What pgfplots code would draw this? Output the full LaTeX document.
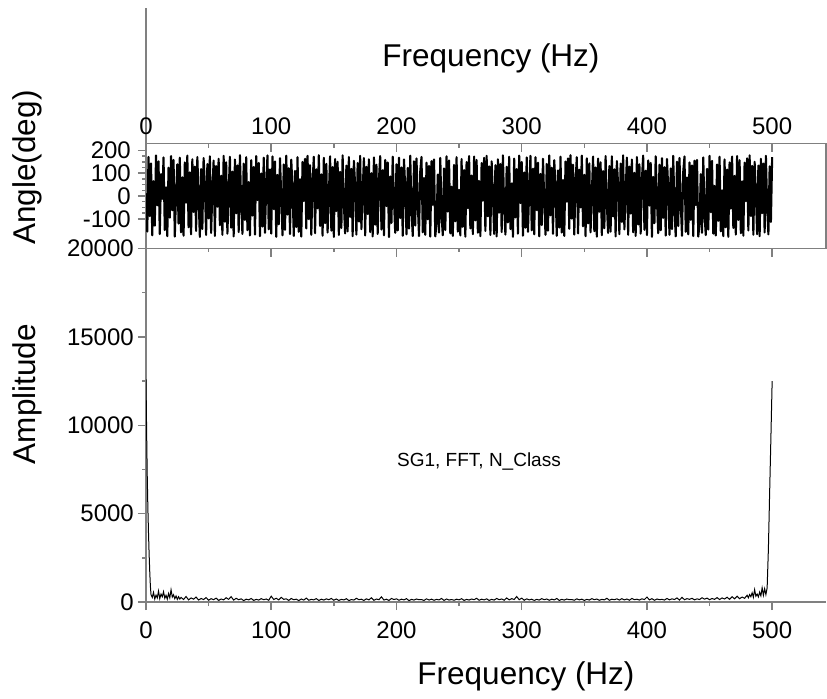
\documentclass[border=0pt]{standalone}
\usepackage{fontspec}
\setmainfont{Liberation Sans}
\usepackage{pgfplots}
\pgfplotsset{compat=1.18}
\definecolor{axgray}{RGB}{128,128,128}
\pgfplotsset{
  myax/.style={
    scale only axis, width=680bp, xmin=0, xmax=543,
    axis line style={-, axgray, line width=1.5bp},
    tick style={axgray, line width=1.5bp},
    major tick length=8bp, minor tick length=4bp,
    tick label style={font=\fontsize{24bp}{28bp}\selectfont},
    scaled ticks=false,
  }
}
\begin{document}
\begin{tikzpicture}
\path[use as bounding box] (0,0) rectangle (827bp,-699bp);
\draw[axgray, line width=1.5bp] (146bp,-143.5bp) -- (146bp,-8bp);
% ---------- top panel: phase ----------
\begin{axis}[myax, at={(146bp,-248.5bp)}, anchor=south west, height=105bp,
  ymin=-230, ymax=230, xtick=\empty,
  ytick={-100,0,100,200}, yticklabels={-100,0,100,200},
  minor y tick num=3, ytick pos=left, tick align=outside,
  yticklabel style={inner sep=1bp, xshift=-6bp}]
\addplot[black, line width=2.1bp, line join=round] coordinates {
(0,12)(1,-156)(2,171)(3,-88)(4,143)(5,-172)(6,65)(7,-130)(8,178)(9,-41)
(10,152)(11,-167)(12,96)(13,-12)(14,169)(15,-149)(16,38)(17,-176)(18,124)(19,-95)
(20,175)(21,-63)(22,158)(23,-178)(24,7)(25,139)(26,-121)(27,168)(28,-159)(29,82)
(30,-174)(31,147)(32,-29)(33,177)(34,-137)(35,104)(36,-168)(37,161)(38,-70)(39,129)
(40,-153)(41,171)(42,-5)(43,-179)(44,118)(45,-144)(46,166)(47,52)(48,-171)(49,140)
(50,-98)(51,174)(52,-162)(53,23)(54,155)(55,-175)(56,131)(57,-47)(58,163)(59,-128)
(60,89)(61,-170)(62,176)(63,-113)(64,148)(65,-165)(66,14)(67,172)(68,-139)(69,107)
(70,-177)(71,160)(72,-76)(73,134)(74,-158)(75,179)(76,-33)(77,-166)(78,142)(79,-105)
(80,170)(81,-150)(82,61)(83,-173)(84,157)(85,-86)(86,127)(87,-169)(88,175)(89,-18)
(90,145)(91,-176)(92,99)(93,-134)(94,168)(95,-161)(96,43)(97,178)(98,-146)(99,116)
(100,-165)(101,173)(102,-57)(103,151)(104,-179)(105,92)(106,-124)(107,166)(108,-9)(109,-172)
(110,138)(111,-148)(112,177)(113,-81)(114,122)(115,-167)(116,159)(117,31)(118,-175)(119,110)
(120,-136)(121,170)(122,-157)(123,74)(124,-178)(125,149)(126,-22)(127,163)(128,-142)(129,176)
(130,-101)(131,135)(132,-170)(133,58)(134,172)(135,-163)(136,117)(137,-54)(138,179)(139,-131)
(140,95)(141,-174)(142,167)(143,-119)(144,141)(145,-160)(146,3)(147,174)(148,-152)(149,127)
(150,-179)(151,162)(152,-66)(153,150)(154,-171)(155,106)(156,-140)(157,178)(158,-35)(159,-164)
(160,133)(161,-155)(162,171)(163,-92)(164,119)(165,-176)(166,154)(167,47)(168,-169)(169,144)
(170,-112)(171,176)(172,-145)(173,18)(174,166)(175,-173)(176,128)(177,-79)(178,161)(179,-158)
(180,100)(181,-177)(182,169)(183,-126)(184,137)(185,-166)(186,71)(187,175)(188,-147)(189,113)
(190,-172)(191,158)(192,-44)(193,147)(194,-180)(195,86)(196,-118)(197,172)(198,-15)(199,-161)
(200,139)(201,-151)(202,168)(203,-97)(204,125)(205,-174)(206,160)(207,36)(208,-168)(209,123)
(210,-143)(211,177)(212,-60)(213,-175)(214,152)(215,-130)(216,165)(217,-27)(218,-176)(219,108)
(220,171)(221,-159)(222,79)(223,-170)(224,146)(225,-102)(226,132)(227,-178)(228,153)(229,-39)
(230,160)(231,-177)(232,-121)(233,94)(234,-160)(235,167)(236,-84)(237,-172)(238,121)(239,-149)
(240,174)(241,-68)(242,156)(243,-164)(244,41)(245,-175)(246,136)(247,-111)(248,170)(249,-156)
(250,27)(251,-173)(252,162)(253,-135)(254,114)(255,-178)(256,149)(257,-53)(258,175)(259,-142)
(260,90)(261,-167)(262,173)(263,-107)(264,158)(265,-161)(266,66)(267,-176)(268,144)(269,-20)
(270,167)(271,-153)(272,176)(273,-89)(274,130)(275,-171)(276,152)(277,9)(278,-166)(279,135)
(280,-177)(281,161)(282,-73)(283,140)(284,-158)(285,178)(286,-46)(287,-169)(288,128)(289,-116)
(290,172)(291,-145)(292,55)(293,-179)(294,164)(295,-94)(296,118)(297,-165)(298,177)(299,-31)
(300,149)(301,-174)(302,103)(303,-139)(304,169)(305,-157)(306,29)(307,176)(308,-150)(309,120)
(310,-168)(311,170)(312,-62)(313,146)(314,-177)(315,97)(316,-127)(317,163)(318,-13)(319,-170)
(320,141)(321,-152)(322,178)(323,-85)(324,124)(325,-166)(326,157)(327,40)(328,-174)(329,112)
(330,-138)(331,172)(332,-160)(333,70)(334,-175)(335,151)(336,-25)(337,165)(338,-144)(339,179)
(340,-99)(341,137)(342,-169)(343,60)(344,170)(345,-164)(346,115)(347,-50)(348,177)(349,-133)
(350,93)(351,-176)(352,165)(353,-120)(354,143)(355,-159)(356,5)(357,173)(358,-154)(359,125)
(360,-178)(361,164)(362,-69)(363,148)(364,-172)(365,109)(366,-141)(367,175)(368,-37)(369,-162)
(370,131)(371,-156)(372,174)(373,-90)(374,117)(375,-177)(376,153)(377,49)(378,-167)(379,142)
(380,-114)(381,178)(382,-146)(383,16)(384,168)(385,-170)(386,129)(387,-77)(388,160)(389,-159)
(390,102)(391,-175)(392,171)(393,-125)(394,139)(395,-165)(396,73)(397,177)(398,-148)(399,111)
(400,-171)(401,156)(402,-42)(403,145)(404,-179)(405,84)(406,-119)(407,174)(408,-17)(409,-163)
(410,137)(411,-150)(412,166)(413,-96)(414,126)(415,-173)(416,162)(417,34)(418,-170)(419,121)
(420,-145)(421,176)(422,-58)(423,-177)(424,150)(425,-132)(426,167)(427,-28)(428,-174)(429,106)
(430,173)(431,-157)(432,81)(433,-168)(434,147)(435,-104)(436,134)(437,-176)(438,155)(439,-40)
(440,158)(441,-178)(442,-123)(443,96)(444,-161)(445,169)(446,-82)(447,-171)(448,119)(449,-147)
(450,176)(451,-71)(452,154)(453,-165)(454,44)(455,-173)(456,138)(457,-109)(458,172)(459,-155)
(460,25)(461,-176)(462,160)(463,-137)(464,116)(465,-179)(466,147)(467,-55)(468,173)(469,-140)
(470,88)(471,-169)(472,175)(473,-105)(474,157)(475,-163)(476,64)(477,-174)(478,146)(479,-23)
(480,165)(481,-151)(482,178)(483,-87)(484,132)(485,-170)(486,150)(487,11)(488,-167)(489,133)
(490,-176)(491,163)(492,-75)(493,142)(494,-160)(495,176)(496,-48)(497,-168)(498,130)(499,-114)
(500,170)};
\end{axis}
% top ticks of top panel (inside) with labels
\begin{axis}[myax, at={(146bp,-248.5bp)}, anchor=south west, height=105bp,
  ymin=-230, ymax=230, axis x line*=top, hide y axis, tick align=inside,
  xtick={0,100,200,300,400,500}, xticklabels={0,100,200,300,400,500},
  minor x tick num=1, xticklabel style={inner sep=1bp, yshift=8bp}]
\end{axis}
% ---------- bottom panel: amplitude ----------
\begin{axis}[myax, at={(146bp,-602bp)}, anchor=south west, height=353.5bp,
  ymin=0, ymax=20000, axis x line*=bottom, axis y line*=left, tick align=outside,
  xtick={0,100,200,300,400,500}, xticklabels={0,100,200,300,400,500},
  minor x tick num=1,
  ytick={0,5000,10000,15000,20000}, yticklabels={0,5000,10000,15000,20000},
  minor y tick num=1,
  yticklabel style={inner sep=1bp, xshift=-3bp}, xticklabel style={yshift=-8bp}]
\addplot[black, line width=1bp] coordinates {
(0,12600)(0.5,9600)(1,7100)(1.5,5300)(2,3900)(2.5,2700)(3,1700)(3.5,900)(4,420)
(5,260)(6,540)(7,170)(8,390)(9,230)(10,620)(11,190)(12,450)(13,300)(14,580)(15,210)
(16,380)(17,160)(18,480)(19,240)(20,690)(21,280)(22,410)(23,190)(24,340)(25,150)(26,300)(27,170)
(28,260)(30,140)(32,310)(34,120)(36,230)(38,160)(40,280)(42,110)(44,200)(46,140)(48,250)
(50,100)(52,190)(54,130)(56,220)(58,90)(60,170)(62,120)(64,240)(66,150)(68,300)(70,110)
(72,210)(74,130)(76,180)(78,80)(80,160)(82,120)(84,200)(86,90)(88,150)(90,110)(92,190)
(94,130)(96,170)(98,100)(100,330)(102,140)(104,210)(106,120)(108,260)(110,150)(112,180)
(114,90)(116,200)(118,130)(120,160)(122,80)(124,170)(126,110)(128,220)(130,100)(132,150)
(134,120)(136,190)(138,90)(140,160)(142,110)(144,180)(146,130)(148,200)(150,100)(152,170)
(154,90)(156,150)(158,120)(160,190)(162,80)(164,140)(166,110)(168,210)(170,130)(172,160)
(174,90)(176,180)(178,120)(180,240)(182,100)(184,170)(186,130)(188,290)(190,110)(192,160)
(194,90)(196,200)(198,140)(200,180)(202,100)(204,160)(206,120)(208,190)(210,80)(212,150)
(214,110)(216,170)(218,130)(220,140)(222,90)(224,180)(226,110)(228,160)(230,100)(232,150)
(234,120)(236,200)(238,90)(240,170)(242,110)(244,140)(246,100)(248,160)(250,120)(252,190)
(254,90)(256,150)(258,110)(260,170)(262,130)(264,210)(266,100)(268,160)(270,120)(272,180)
(274,90)(276,150)(278,110)(280,200)(282,130)(284,170)(286,100)(288,230)(290,120)(292,190)
(294,140)(296,310)(298,130)(300,220)(302,100)(304,180)(306,120)(308,160)(310,90)(312,150)
(314,110)(316,190)(318,130)(320,170)(322,100)(324,160)(326,120)(328,200)(330,90)(332,150)
(334,110)(336,170)(338,130)(340,140)(342,100)(344,180)(346,120)(348,160)(350,90)(352,150)
(354,110)(356,190)(358,130)(360,170)(362,100)(364,150)(366,120)(368,210)(370,100)(372,160)
(374,130)(376,180)(378,110)(380,190)(382,120)(384,170)(386,100)(388,200)(390,130)(392,160)
(394,110)(396,180)(398,140)(400,280)(402,120)(404,190)(406,100)(408,170)(410,130)(412,150)
(414,110)(416,200)(418,120)(420,180)(422,140)(424,230)(426,110)(428,260)(430,130)(432,190)
(434,150)(436,210)(438,120)(440,180)(442,140)(444,240)(446,160)(448,220)(450,130)(452,200)
(454,150)(456,250)(458,140)(460,230)(462,170)(464,270)(466,150)(468,300)(470,180)(472,330)
(474,190)(476,280)(478,210)(480,380)(481,240)(482,420)(483,300)(484,520)(485,270)(486,700)
(487,330)(488,450)(489,290)(490,560)(491,350)(492,800)(493,380)(494,750)(495,420)
(496,800)(497,3000)(498,6200)(499,9300)(500,12500)};
\end{axis}
% top ticks of bottom panel (inside)
\begin{axis}[myax, at={(146bp,-602bp)}, anchor=south west, height=353.5bp,
  ymin=0, ymax=20000, axis x line*=top, hide y axis, tick align=inside,
  xtick={0,100,200,300,400,500}, xticklabels={}, minor x tick num=1]
\end{axis}
% ---------- labels ----------
\node[font=\fontsize{31.5bp}{36bp}\selectfont] at (491bp,-58bp) {Frequency (Hz)};
\node[font=\fontsize{31.5bp}{36bp}\selectfont] at (526bp,-676bp) {Frequency (Hz)};
\node[font=\fontsize{31.5bp}{36bp}\selectfont, rotate=90] at (27.5bp,-167.5bp) {Angle(deg)};
\node[font=\fontsize{31.5bp}{36bp}\selectfont, rotate=90] at (27.5bp,-394bp) {Amplitude};
\node[font=\fontsize{19bp}{23bp}\selectfont] at (479bp,-461bp) {SG1, FFT, N\_Class};
\end{tikzpicture}
\end{document}
